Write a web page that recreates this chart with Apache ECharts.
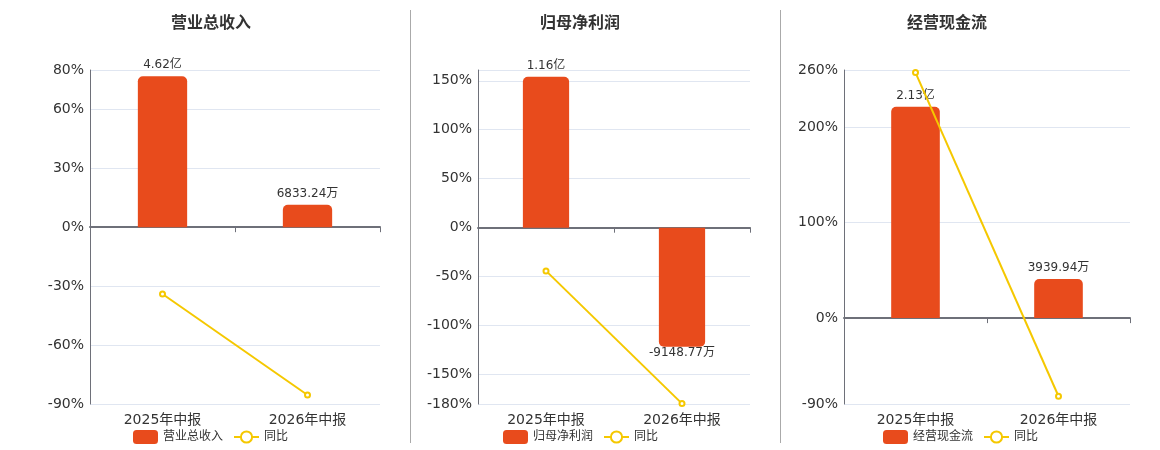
<!DOCTYPE html>
<html>
<head>
<meta charset="utf-8">
<script src="https://cdn.jsdelivr.net/npm/echarts@6/dist/echarts.min.js"></script>
<style>
  html, body { margin: 0; padding: 0; background: #fff; }
  #main { width: 1160px; height: 450px; }
</style>
</head>
<body>
<div id="main"></div>
<script>
// categories
const periods = ['2025年中报', '2026年中报']

// panel names
const titles = ['营业总收入', '归母净利润', '经营现金流']

// bar values, in 万元
const revenue = [46200, 6833.24]
const netProfit = [11600, -9148.77]
const cashFlow = [21300, 3939.94]

// 同比, in %
const revenueYoy = [-34.0, -85.4]
const netProfitYoy = [-44.1, -179.6]
const cashFlowYoy = [257.3, -81.9]

// percent axis labels per panel
const pctLabels1 = [-90, -60, -30, 0, 30, 60, 80]
const pctLabels2 = [-180, -150, -100, -50, 0, 50, 100, 150]
const pctLabels3 = [-90, 0, 100, 200, 260]

const barColor = '#E84B1C'
const lineColor = '#F5C800'
const font = "'DejaVu Sans', 'Noto Sans CJK SC', sans-serif"

const panels = [
    { name: titles[0], bars: revenue, yoy: revenueYoy, labels: pctLabels1, pct: [-90, 80], bar: [-54113, 48100],
      grid: { left: 90, width: 290 }, titleLeft: 166, legendLeft: 128 },
    { name: titles[1], bars: netProfit, yoy: netProfitYoy, labels: pctLabels2, pct: [-180, 161], bar: [-13549, 12119],
      grid: { left: 478, width: 272 }, titleLeft: 535, legendLeft: 498 },
    { name: titles[2], bars: cashFlow, yoy: cashFlowYoy, labels: pctLabels3, pct: [-90, 260], bar: [-8654, 25000],
      grid: { left: 844, width: 286 }, titleLeft: 902, legendLeft: 878 }
]

const fmtMoney = v => {
    if (Math.abs(v) >= 10000) return (v / 10000).toFixed(2) + '亿'
    return v.toFixed(2) + '万'
}

const grid = [], xAxis = [], yAxis = [], series = [], title = [], legend = []

panels.forEach((p, i) => {
    grid.push({ left: p.grid.left, width: p.grid.width, top: 70, height: 334 })
    title.push({
        text: p.name, left: p.titleLeft, top: 11,
        textStyle: { fontSize: 16, fontWeight: 'bold', color: '#333', fontFamily: font }
    })
    legend.push({
        data: [p.name, '同比'], left: p.legendLeft, top: 425,
        itemWidth: 25, itemHeight: 14, itemGap: 10,
        textStyle: { fontSize: 12, color: '#333', fontFamily: font }
    })
    // category labels at the bottom
    xAxis.push({
        type: 'category', gridIndex: i, data: periods, position: 'bottom',
        axisLine: { show: false, onZero: false },
        axisTick: { show: false },
        axisLabel: { fontSize: 14, color: '#333', margin: 9, fontFamily: font }
    })
    // zero line with its ticks
    xAxis.push({
        type: 'category', gridIndex: i, data: periods, position: 'top',
        axisLine: { show: true, onZero: true, lineStyle: { color: '#6E7079', width: 2 } },
        axisTick: { show: true, inside: true, length: 5, lineStyle: { color: '#6E7079' } },
        axisLabel: { show: false },
        splitLine: { show: false }
    })
    const ticks = p.labels.slice()
    if (ticks[ticks.length - 1] !== p.pct[1]) ticks.push(p.pct[1])
    yAxis.push({
        type: 'value', gridIndex: i, position: 'left', min: p.pct[0], max: p.pct[1],
        axisLine: { show: true, lineStyle: { color: '#6E7079' } },
        axisTick: { show: false, customValues: ticks },
        axisLabel: { customValues: p.labels, formatter: '{value}%', fontSize: 14, color: '#333', margin: 6, fontFamily: font },
        splitLine: { show: true, lineStyle: { color: '#E0E6F1' } }
    })
    yAxis.push({
        type: 'value', gridIndex: i, position: 'right', min: p.bar[0], max: p.bar[1], show: false,
        splitLine: { show: false }
    })
    series.push({
        name: p.name, type: 'bar', xAxisIndex: 2 * i, yAxisIndex: 2 * i + 1,
        barWidth: '34%',
        data: p.bars.map(v => ({
            value: v,
            itemStyle: { borderRadius: v >= 0 ? [5, 5, 0, 0] : [0, 0, 5, 5] },
            label: { position: v >= 0 ? 'top' : 'bottom', distance: v >= 0 ? 5 : 0 }
        })),
        itemStyle: { color: barColor },
        label: {
            show: true, fontSize: 12, color: '#333', fontFamily: font,
            formatter: params => fmtMoney(params.value)
        }
    })
    series.push({
        name: '同比', type: 'line', xAxisIndex: 2 * i, yAxisIndex: 2 * i, z: 3,
        data: p.yoy,
        symbol: 'emptyCircle', symbolSize: 5,
        itemStyle: { color: lineColor },
        lineStyle: { color: lineColor, width: 2 }
    })
})

const chart = echarts.init(document.getElementById('main'))
chart.setOption({
    animation: false,
    textStyle: { fontFamily: font },
    title, legend, grid, xAxis, yAxis, series,
    graphic: [
        { type: 'line', shape: { x1: 410.5, y1: 10, x2: 410.5, y2: 443 }, style: { stroke: '#aaa', lineWidth: 1 } },
        { type: 'line', shape: { x1: 780.5, y1: 10, x2: 780.5, y2: 443 }, style: { stroke: '#aaa', lineWidth: 1 } }
    ]
})
</script>
</body>
</html>
